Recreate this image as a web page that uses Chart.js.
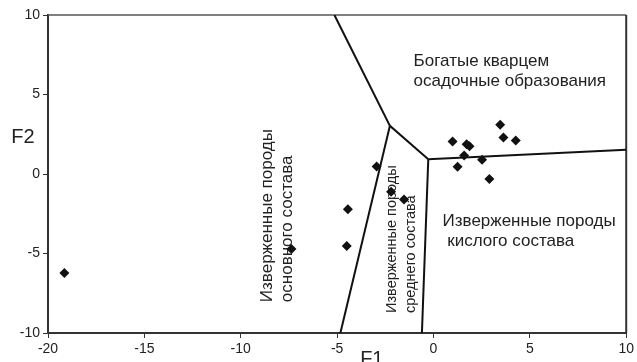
<!DOCTYPE html>
<html>
<head>
<meta charset="utf-8">
<script src="https://cdn.jsdelivr.net/npm/chart.js@4/dist/chart.umd.min.js"></script>
<style>
    html, body { margin: 0; padding: 0; background: #fff; }
</style>
</head>
<body>
<canvas id="diagram" width="637" height="362"></canvas>
<script>
// Sample points (discriminant functions F1 / F2)
const sampleF1 = [-19.15, -7.37, -4.44, -4.50, -2.95, -2.20, -1.53, 0.99, 1.72, 1.87, 1.59, 2.52, 1.25, 2.90, 3.46, 3.63, 4.27];
const sampleF2 = [-6.22, -4.72, -2.22, -4.53, 0.47, -1.11, -1.60, 2.04, 1.87, 1.74, 1.17, 0.89, 0.45, -0.32, 3.10, 2.29, 2.11];

// Field boundaries
const upperBoundF1 = [-5.14, -2.26, -0.27, 10];
const upperBoundF2 = [10, 3.03, 0.93, 1.52];
const leftBoundF1 = [-2.26, -4.83];
const leftBoundF2 = [3.03, -10];
const rightBoundF1 = [-0.27, -0.60];
const rightBoundF2 = [0.93, -10];

// Axis ticks
const f1Ticks = [-20, -15, -10, -5, 0, 5, 10];
const f2Ticks = [-10, -5, 0, 5, 10];

const toPoints = (xs, ys) => xs.map((v, i) => ({ x: v, y: ys[i] }));

const FONT = "'Liberation Sans', Arial, sans-serif";

// Field names, frame and axis titles
const fieldLabels = {
    id: 'fieldLabels',
    beforeDatasetsDraw(chart) {
        const { ctx, chartArea: a, scales: { x, y } } = chart;
        ctx.save();

        // top / right frame
        ctx.strokeStyle = '#555';
        ctx.lineWidth = 1.5;
        ctx.beginPath();
        ctx.moveTo(a.left, a.top);
        ctx.lineTo(a.right, a.top);
        ctx.stroke();
        ctx.strokeStyle = '#333';
        ctx.lineWidth = 2;
        ctx.beginPath();
        ctx.moveTo(a.right, a.top);
        ctx.lineTo(a.right, a.bottom);
        ctx.stroke();

        ctx.fillStyle = '#222';
        ctx.textBaseline = 'middle';
        ctx.textAlign = 'left';

        // horizontal labels
        ctx.font = '17px ' + FONT;
        ctx.fillText('Богатые кварцем', x.getPixelForValue(-1.03), y.getPixelForValue(7.07));
        ctx.fillText('осадочные образования', x.getPixelForValue(-1.03), y.getPixelForValue(5.81));
        ctx.fillText('Изверженные породы', x.getPixelForValue(0.47), y.getPixelForValue(-3.0));
        ctx.fillText(' кислого состава', x.getPixelForValue(0.47), y.getPixelForValue(-4.22));

        // rotated labels
        const vertical = (text, fx, fy, size) => {
            ctx.save();
            ctx.font = size + 'px ' + FONT;
            ctx.translate(x.getPixelForValue(fx), y.getPixelForValue(fy));
            ctx.rotate(-Math.PI / 2);
            ctx.fillText(text, 0, 0);
            ctx.restore();
        };
        vertical('Изверженные породы', -8.62, -8.06, 17);
        vertical('основного состава', -7.56, -8.06, 17);
        vertical('Изверженные породы', -2.15, -8.74, 14.5);
        vertical('среднего состава', -1.16, -8.74, 14.5);

        // axis titles
        ctx.font = '20px ' + FONT;
        ctx.textAlign = 'center';
        ctx.fillText('F2', 23, y.getPixelForValue(2.3));
        ctx.textBaseline = 'top';
        ctx.fillText('F1', x.getPixelForValue(-3.2), 349);

        ctx.restore();
    }
};

const boundaryStyle = {
    type: 'line',
    showLine: true,
    borderColor: '#111',
    borderWidth: 2,
    pointRadius: 0,
    fill: false,
    tension: 0
};

new Chart(document.getElementById('diagram'), {
    type: 'scatter',
    data: {
        datasets: [
            {
                label: 'Образцы',
                data: toPoints(sampleF1, sampleF2),
                pointStyle: 'rectRot',
                pointRadius: 5,
                backgroundColor: '#111',
                borderColor: '#111',
                borderWidth: 0
            },
            { ...boundaryStyle, label: 'upper', data: toPoints(upperBoundF1, upperBoundF2) },
            { ...boundaryStyle, label: 'left', data: toPoints(leftBoundF1, leftBoundF2) },
            { ...boundaryStyle, label: 'right', data: toPoints(rightBoundF1, rightBoundF2) }
        ]
    },
    options: {
        responsive: false,
        animation: false,
        layout: { padding: { top: 15, right: 10, left: 0, bottom: 0 } },
        plugins: {
            legend: { display: false },
            tooltip: { enabled: false }
        },
        scales: {
            x: {
                type: 'linear',
                min: -20,
                max: 10,
                afterBuildTicks: (scale) => { scale.ticks = f1Ticks.map(v => ({ value: v })); },
                afterFit: (scale) => { scale.height = 29; },
                grid: { drawOnChartArea: false, drawTicks: true, tickLength: 5, color: '#333' },
                border: { display: true, color: '#333', width: 2 },
                ticks: { padding: 3, color: '#222', font: { family: FONT, size: 14 } }
            },
            y: {
                type: 'linear',
                min: -10,
                max: 10,
                afterBuildTicks: (scale) => { scale.ticks = f2Ticks.map(v => ({ value: v })); },
                afterFit: (scale) => { scale.width = 48; },
                grid: { drawOnChartArea: false, drawTicks: true, tickLength: 5, color: '#333' },
                border: { display: true, color: '#333', width: 2 },
                ticks: { padding: 3, color: '#222', font: { family: FONT, size: 14 } }
            }
        }
    },
    plugins: [fieldLabels]
});
</script>
</body>
</html>
